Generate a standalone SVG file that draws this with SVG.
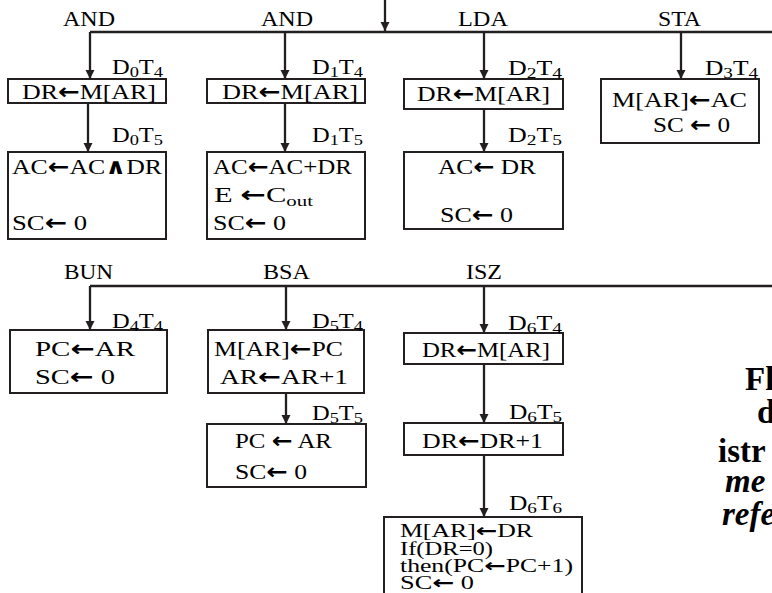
<svg xmlns="http://www.w3.org/2000/svg" width="772" height="593" viewBox="0 0 772 593">
<style>
.t{font-family:"Liberation Serif","DejaVu Serif",serif;fill:#000}
.lbl{font-size:20px}
.bx{font-size:22px}
.sm{font-size:18px}
.s{font-size:15px}
.a{font-family:"DejaVu Sans",sans-serif;font-weight:bold}
.w{font-family:"DejaVu Sans",sans-serif;font-weight:bold}
.big{font-size:33px;font-weight:bold}
.it{font-style:italic}
.box{fill:#fff;stroke:#231f20;stroke-width:2}
.ln{stroke:#231f20;stroke-width:2.3;fill:none}
</style>
<defs>
<marker id="ah" markerUnits="userSpaceOnUse" markerWidth="10" markerHeight="10" refX="9" refY="4.5" orient="auto">
<path d="M0,0 L9,4.5 L0,9 Z" fill="#231f20"/>
</marker>
</defs>

<g id="connectors">
<line class="ln" x1="385" y1="0" x2="385" y2="31" marker-end="url(#ah)"/>
<line class="ln" x1="90" y1="32" x2="772" y2="32"/>
<line class="ln" x1="90" y1="32" x2="90" y2="79" marker-end="url(#ah)"/>
<line class="ln" x1="88" y1="103" x2="88" y2="152" marker-end="url(#ah)"/>
<line class="ln" x1="285" y1="32" x2="285" y2="79" marker-end="url(#ah)"/>
<line class="ln" x1="285" y1="103" x2="285" y2="152" marker-end="url(#ah)"/>
<line class="ln" x1="484" y1="32" x2="484" y2="79" marker-end="url(#ah)"/>
<line class="ln" x1="484" y1="109" x2="484" y2="152" marker-end="url(#ah)"/>
<line class="ln" x1="681" y1="32" x2="681" y2="79" marker-end="url(#ah)"/>
<line class="ln" x1="90" y1="286" x2="772" y2="286"/>
<line class="ln" x1="90" y1="286" x2="90" y2="330" marker-end="url(#ah)"/>
<line class="ln" x1="286" y1="286" x2="286" y2="330" marker-end="url(#ah)"/>
<line class="ln" x1="286" y1="393" x2="286" y2="424" marker-end="url(#ah)"/>
<line class="ln" x1="484" y1="286" x2="484" y2="333" marker-end="url(#ah)"/>
<line class="ln" x1="484" y1="364" x2="484" y2="423" marker-end="url(#ah)"/>
<line class="ln" x1="484" y1="455" x2="484" y2="517" marker-end="url(#ah)"/>
</g>

<g id="labels">
<text class="t lbl" x="63" y="26" textLength="52" lengthAdjust="spacingAndGlyphs">AND</text>
<text class="t lbl" x="261" y="26" textLength="52" lengthAdjust="spacingAndGlyphs">AND</text>
<text class="t lbl" x="458" y="26" textLength="50" lengthAdjust="spacingAndGlyphs">LDA</text>
<text class="t lbl" x="658" y="26" textLength="43" lengthAdjust="spacingAndGlyphs">STA</text>
<text class="t lbl" x="64" y="279" textLength="49" lengthAdjust="spacingAndGlyphs">BUN</text>
<text class="t lbl" x="263" y="279" textLength="47" lengthAdjust="spacingAndGlyphs">BSA</text>
<text class="t lbl" x="466" y="279" textLength="36" lengthAdjust="spacingAndGlyphs">ISZ</text>
</g>

<g id="n-and-t4">
<rect class="box" x="8" y="79" width="158" height="24"/>
<text class="t lbl" x="112" y="74" textLength="51" lengthAdjust="spacingAndGlyphs">D<tspan class="s" dy="3">0</tspan><tspan dy="-3">T</tspan><tspan class="s" dy="3">4</tspan></text>
<text class="t bx" x="22" y="99" textLength="134" lengthAdjust="spacingAndGlyphs">DR<tspan class="a">←</tspan>M[AR]</text>
</g>
<g id="n-and-t5">
<rect class="box" x="8" y="152" width="158" height="87"/>
<text class="t lbl" x="112" y="142" textLength="51" lengthAdjust="spacingAndGlyphs">D<tspan class="s" dy="3">0</tspan><tspan dy="-3">T</tspan><tspan class="s" dy="3">5</tspan></text>
<text class="t bx" x="12" y="174" textLength="150" lengthAdjust="spacingAndGlyphs">AC<tspan class="a">←</tspan>AC<tspan class="w">∧</tspan>DR</text>
<text class="t bx" x="12" y="230" textLength="75" lengthAdjust="spacingAndGlyphs">SC<tspan class="a">←</tspan> 0</text>
</g>

<g id="n-add-t4">
<rect class="box" x="207" y="79" width="158" height="24"/>
<text class="t lbl" x="312" y="74" textLength="51" lengthAdjust="spacingAndGlyphs">D<tspan class="s" dy="3">1</tspan><tspan dy="-3">T</tspan><tspan class="s" dy="3">4</tspan></text>
<text class="t bx" x="222" y="99" textLength="136" lengthAdjust="spacingAndGlyphs">DR<tspan class="a">←</tspan>M[AR]</text>
</g>
<g id="n-add-t5">
<rect class="box" x="207" y="152" width="158" height="87"/>
<text class="t lbl" x="312" y="142" textLength="51" lengthAdjust="spacingAndGlyphs">D<tspan class="s" dy="3">1</tspan><tspan dy="-3">T</tspan><tspan class="s" dy="3">5</tspan></text>
<text class="t bx" x="213" y="174" textLength="139" lengthAdjust="spacingAndGlyphs">AC<tspan class="a">←</tspan>AC+DR</text>
<text class="t bx" x="214" y="202" textLength="99" lengthAdjust="spacingAndGlyphs">E <tspan class="a">←</tspan>C<tspan class="s" dy="4">out</tspan></text>
<text class="t bx" x="213" y="230" textLength="73" lengthAdjust="spacingAndGlyphs">SC<tspan class="a">←</tspan> 0</text>
</g>

<g id="n-lda-t4">
<rect class="box" x="404" y="79" width="159" height="30"/>
<text class="t lbl" x="508" y="75" textLength="54" lengthAdjust="spacingAndGlyphs">D<tspan class="s" dy="3">2</tspan><tspan dy="-3">T</tspan><tspan class="s" dy="3">4</tspan></text>
<text class="t bx" x="417" y="101" textLength="133" lengthAdjust="spacingAndGlyphs">DR<tspan class="a">←</tspan>M[AR]</text>
</g>
<g id="n-lda-t5">
<rect class="box" x="404" y="152" width="159" height="77"/>
<text class="t lbl" x="508" y="142" textLength="54" lengthAdjust="spacingAndGlyphs">D<tspan class="s" dy="3">2</tspan><tspan dy="-3">T</tspan><tspan class="s" dy="3">5</tspan></text>
<text class="t bx" x="438" y="174" textLength="98" lengthAdjust="spacingAndGlyphs">AC<tspan class="a">←</tspan> DR</text>
<text class="t bx" x="440" y="222" textLength="73" lengthAdjust="spacingAndGlyphs">SC<tspan class="a">←</tspan> 0</text>
</g>

<g id="n-sta-t4">
<rect class="box" x="601" y="79" width="158" height="64"/>
<text class="t lbl" x="705" y="75" textLength="53" lengthAdjust="spacingAndGlyphs">D<tspan class="s" dy="3">3</tspan><tspan dy="-3">T</tspan><tspan class="s" dy="3">4</tspan></text>
<text class="t bx" x="612" y="107" textLength="135" lengthAdjust="spacingAndGlyphs">M[AR]<tspan class="a">←</tspan>AC</text>
<text class="t bx" x="653" y="132" textLength="77" lengthAdjust="spacingAndGlyphs">SC <tspan class="a">←</tspan> 0</text>
</g>

<g id="n-bun-t4">
<rect class="box" x="10" y="330" width="157" height="63"/>
<text class="t lbl" x="112" y="328" textLength="51" lengthAdjust="spacingAndGlyphs">D<tspan class="s" dy="3">4</tspan><tspan dy="-3">T</tspan><tspan class="s" dy="3">4</tspan></text>
<text class="t bx" x="35" y="356" textLength="100" lengthAdjust="spacingAndGlyphs">PC<tspan class="a">←</tspan>AR</text>
<text class="t bx" x="35" y="384" textLength="80" lengthAdjust="spacingAndGlyphs">SC<tspan class="a">←</tspan> 0</text>
</g>

<g id="n-bsa-t4">
<rect class="box" x="208" y="330" width="156" height="63"/>
<text class="t lbl" x="312" y="328" textLength="51" lengthAdjust="spacingAndGlyphs">D<tspan class="s" dy="3">5</tspan><tspan dy="-3">T</tspan><tspan class="s" dy="3">4</tspan></text>
<text class="t bx" x="214" y="356" textLength="129" lengthAdjust="spacingAndGlyphs">M[AR]<tspan class="a">←</tspan>PC</text>
<text class="t bx" x="220" y="384" textLength="128" lengthAdjust="spacingAndGlyphs">AR<tspan class="a">←</tspan>AR+1</text>
</g>
<g id="n-bsa-t5">
<rect class="box" x="207" y="424" width="159" height="63"/>
<text class="t lbl" x="312" y="420" textLength="51" lengthAdjust="spacingAndGlyphs">D<tspan class="s" dy="3">5</tspan><tspan dy="-3">T</tspan><tspan class="s" dy="3">5</tspan></text>
<text class="t bx" x="235" y="448" textLength="97" lengthAdjust="spacingAndGlyphs">PC <tspan class="a">←</tspan> AR</text>
<text class="t bx" x="235" y="479" textLength="72" lengthAdjust="spacingAndGlyphs">SC<tspan class="a">←</tspan> 0</text>
</g>

<g id="n-isz-t4">
<rect class="box" x="404" y="333" width="159" height="31"/>
<text class="t lbl" x="508" y="330" textLength="54" lengthAdjust="spacingAndGlyphs">D<tspan class="s" dy="3">6</tspan><tspan dy="-3">T</tspan><tspan class="s" dy="3">4</tspan></text>
<text class="t bx" x="422" y="357" textLength="128" lengthAdjust="spacingAndGlyphs">DR<tspan class="a">←</tspan>M[AR]</text>
</g>
<g id="n-isz-t5">
<rect class="box" x="404" y="423" width="159" height="32"/>
<text class="t lbl" x="509" y="419" textLength="53" lengthAdjust="spacingAndGlyphs">D<tspan class="s" dy="3">6</tspan><tspan dy="-3">T</tspan><tspan class="s" dy="3">5</tspan></text>
<text class="t bx" x="422" y="448" textLength="121" lengthAdjust="spacingAndGlyphs">DR<tspan class="a">←</tspan>DR+1</text>
</g>
<g id="n-isz-t6">
<rect class="box" x="384" y="517" width="198" height="90"/>
<text class="t lbl" x="509" y="510" textLength="53" lengthAdjust="spacingAndGlyphs">D<tspan class="s" dy="3">6</tspan><tspan dy="-3">T</tspan><tspan class="s" dy="3">6</tspan></text>
<text class="t sm" x="400" y="537" textLength="133" lengthAdjust="spacingAndGlyphs">M[AR]<tspan class="a">←</tspan>DR</text>
<text class="t sm" x="400" y="555" textLength="93" lengthAdjust="spacingAndGlyphs">If(DR=0)</text>
<text class="t sm" x="400" y="572" textLength="173" lengthAdjust="spacingAndGlyphs">then(PC<tspan class="a">←</tspan>PC+1)</text>
<text class="t sm" x="400" y="589" textLength="74" lengthAdjust="spacingAndGlyphs">SC<tspan class="a">←</tspan> 0</text>
</g>

<g id="caption">
<text class="t big" x="745" y="390">Fl</text>
<text class="t big" x="757" y="423">d</text>
<text class="t big" x="718" y="462">istr</text>
<text class="t big it" x="725" y="492">me</text>
<text class="t big it" x="722" y="525">refe</text>
</g>
</svg>
